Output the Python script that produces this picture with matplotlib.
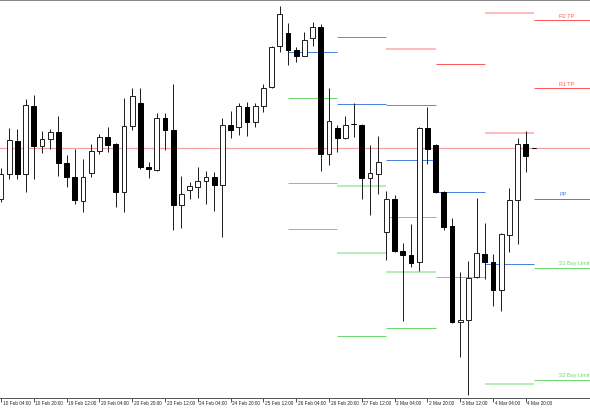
import matplotlib
matplotlib.use("Agg")
import matplotlib.pyplot as plt
import numpy as np

# H4 candles, prices in chart units
opens = [300, 325, 358, 325, 393, 353, 360, 367, 336, 322, 298, 326, 348, 362, 355, 307, 373,
         396, 332, 329, 381, 369, 294, 309, 312, 318, 322, 314, 374, 372, 392, 377, 393, 412,
         453, 466, 449, 443, 461, 472, 345, 371, 361, 375, 374, 321, 325, 267, 300, 248, 244,
         237, 371, 354, 307, 273, 177, 179, 222, 245, 237, 209, 264, 299, 355, 351]
highs = [331, 371, 370, 400, 404, 368, 370, 383, 344, 350, 340, 355, 365, 372, 356, 401, 411,
         411, 337, 386, 386, 415, 323, 317, 332, 328, 327, 381, 388, 396, 397, 396, 415, 453,
         493, 476, 452, 467, 477, 475, 411, 374, 383, 396, 375, 354, 363, 308, 304, 256, 275,
         372, 392, 355, 308, 281, 227, 238, 301, 276, 245, 266, 311, 361, 368, 351]
lows = [297, 320, 320, 307, 320, 346, 350, 323, 312, 295, 287, 322, 345, 347, 292, 287, 369,
        330, 321, 328, 349, 269, 271, 300, 301, 295, 288, 262, 361, 364, 363, 372, 387, 411,
        447, 434, 437, 443, 453, 328, 334, 347, 360, 362, 300, 284, 305, 239, 247, 178, 232,
        228, 335, 306, 269, 176, 142, 104, 221, 220, 193, 188, 247, 255, 327, 351]
closes = [325, 359, 325, 394, 353, 360, 367, 336, 322, 299, 322, 348, 362, 354, 307, 373, 403,
          332, 330, 381, 369, 294, 305, 313, 318, 322, 314, 374, 369, 393, 377, 393, 411, 452,
          485, 449, 443, 459, 472, 345, 378, 361, 374, 375, 321, 326, 337, 300, 248, 244, 236,
          371, 350, 307, 272, 177, 179, 221, 246, 237, 209, 265, 299, 355, 343, 351]

tick_labels = ["10 Feb 04:00", "10 Feb 20:00", "19 Feb 12:00", "20 Feb 04:00", "20 Feb 20:00",
               "23 Feb 12:00", "24 Feb 04:00", "24 Feb 20:00", "25 Feb 12:00", "26 Feb 04:00",
               "26 Feb 20:00", "27 Feb 12:00", "2 Mar 04:00", "2 Mar 20:00", "3 Mar 12:00",
               "4 Mar 04:00", "4 Mar 20:00"]

# daily pivot segments (start bar, level, kind), each 6 bars long
seg_start = [35, 35, 35, 35,
             41, 41, 41, 41, 41,
             47, 47, 47, 47, 47, 47,
             53, 53, 53,
             59, 59, 59, 59]
seg_level = [447, 401, 316, 270,
             462, 395, 313, 246, 163,
             450, 394, 339, 282, 227, 171,
             435, 307, 222,
             486, 366, 235, 115]
seg_kind = ["pp", "s", "s", "s",
            "r", "pp", "s2", "s2", "s",
            "r2", "r", "pp", "s", "s2", "s",
            "r", "pp", "s",
            "r2", "r2", "pp", "s2"]

level_names = ["R2 TP", "R1 TP", "PP", "S1 Buy Limit", "S2 Buy Limit"]
level_values = [479, 411, 300, 231, 119]
level_kind = ["r", "r", "pp", "s", "s"]
price_line = 351

colors = {"r": "#ff5a5a", "r2": "#ffaaaa", "pp": "#4f82dc", "s": "#6ed86e", "s2": "#a8e8a8"}
small_font = ["Liberation Sans", "DejaVu Sans"]

fig = plt.figure(figsize=(5.9, 4.1), dpi=100)
ax = fig.add_axes([0, 11 / 410, 1, 398 / 410])
px = 0.72

n = len(opens)
x = np.arange(n)
ax.axhline(price_line, color="#f0a0a0", lw=1.2 * px, zorder=1)

for s, lv, k in zip(seg_start, seg_level, seg_kind):
    lw = 1.6 * px if k in ("r2", "s2") else px
    ax.hlines(lv, s, s + 6, color=colors[k], lw=lw, zorder=1)

last = n - 1
for name, lv, k in zip(level_names, level_values, level_kind):
    ax.hlines(lv, last, 80, color=colors[k], lw=px, zorder=1)
    ax.text(68.05, lv + 2.5, name, color=colors[k], fontsize=3.9, ha="left", va="bottom",
            family=small_font)

o = np.array(opens)
c = np.array(closes)
ax.vlines(x, lows, highs, color="#222222", lw=px, zorder=2)
up = c >= o
bottoms = np.minimum(o, c)
heights = np.abs(c - o)
ax.bar(x[up], heights[up], bottom=bottoms[up], width=0.58, color="white",
       edgecolor="#222222", lw=px, zorder=3)
ax.bar(x[~up], heights[~up], bottom=bottoms[~up], width=0.58, color="black",
       edgecolor="black", lw=px, zorder=3)
flat = heights == 0
ax.hlines(o[flat], x[flat] - 0.29, x[flat] + 0.29, color="black", lw=px, zorder=3)

ax.set_xlim(-1 / 8.2, 589 / 8.2)
ax.set_ylim(101, 499)
ax.set_yticks([])
ax.set_xticks(np.arange(0, 65, 4))
ax.set_xticklabels([])
ax.tick_params(axis="x", length=3, width=px, color="#555555", direction="out")
for i, lab in zip(np.arange(0, 65, 4), tick_labels):
    ax.text(i + 0.2, 99.3, lab, fontsize=3.4, ha="left", va="top", color="#222222",
            family=small_font)
for side in ("left", "right"):
    ax.spines[side].set_visible(False)
ax.spines["bottom"].set_color("#555555")
ax.spines["bottom"].set_linewidth(px)
ax.spines["top"].set_color("#888888")
ax.spines["top"].set_linewidth(px)

fig.savefig("out.png", dpi=100)
